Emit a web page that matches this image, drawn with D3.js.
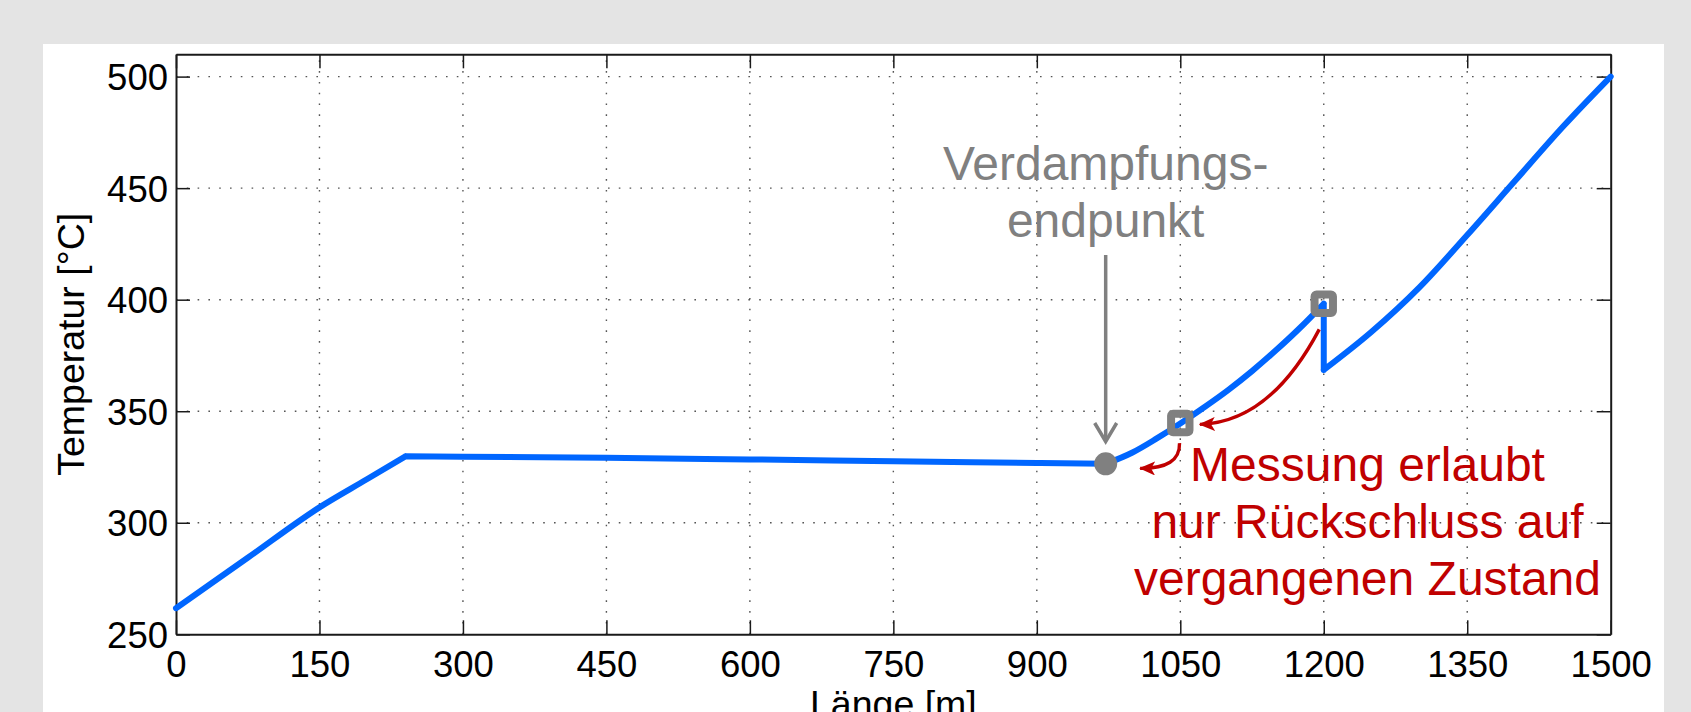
<!DOCTYPE html>
<html>
<head>
<meta charset="utf-8">
<script src="https://cdn.jsdelivr.net/npm/d3@7/dist/d3.min.js"></script>
<style>
	body{margin:0;background:#e4e4e4;overflow:hidden;}
	text{font-family:"Liberation Sans",Arial,Helvetica,sans-serif;}
</style>
</head>
<body>
<div id="plot"></div>
<script>
// Temperaturverlauf ueber die Rohrlaenge
var laenge = [0, 75, 150, 200, 240, 300, 450, 600, 750, 900, 972,
	1000, 1025, 1050, 1075, 1100, 1125, 1150, 1175, 1200,
	1200, 1250, 1300, 1350, 1400, 1450, 1500]
var temperatur = [261.7, 284.3, 306.9, 319.6, 329.8, 329.6, 329.1, 328.4, 327.6, 326.8, 326.4,
	331.5, 337.7, 344.5, 351.8, 359.5, 368, 377.3, 387.3, 398.2,
	368.5, 385.6, 405.5, 429, 453.3, 477.5, 500]
// Knickstellen: Abschnitte werden einzeln geglaettet
var knick = [240, 972, 1200]

var xTicks = [0, 150, 300, 450, 600, 750, 900, 1050, 1200, 1350, 1500]
var yTicks = [250, 300, 350, 400, 450, 500]

// Verdampfungsendpunkt + Messstellen
var endpunkt = {x: 972, t: 326.4}
var messX = [1050, 1200]
var messT = [344.7, 398.2]

var verdampfText = ["Verdampfungs-", "endpunkt"]
var messText = ["Messung erlaubt", "nur Rückschluss auf", "vergangenen Zustand"]

function plot(){
	var W = 1691, H = 712
	var blau = "#0066ff", grau = "#808080", rot = "#c00000"

	var svg = d3.select("#plot")
		.append("svg")
			.attr("width", W)
			.attr("height", H)

	svg.append("rect")
		.attr("width", W).attr("height", H)
		.attr("fill", "#e4e4e4")
	svg.append("rect")
		.attr("x", 43).attr("y", 44)
		.attr("width", 1621).attr("height", H)
		.attr("fill", "#fff")

	var x = d3.scaleLinear()
		.domain([0, 1500])
		.range([176, 1610.7])
	var y = d3.scaleLinear()
		.domain([250, 510])
		.range([634.3, 54.3])

	var x0 = x.range()[0], x1 = x.range()[1]
	var y0 = y.range()[0], y1 = y.range()[1]

	// dotted grid
	var grid = svg.append("g")
	grid.selectAll(".gx")
		.data(xTicks.slice(1, -1))
		.enter().append("line")
			.attr("x1", d => x(d)).attr("x2", d => x(d))
			.attr("y1", y0).attr("y2", y1)
	grid.selectAll(".gy")
		.data(yTicks.slice(1))
		.enter().append("line")
			.attr("x1", x0).attr("x2", x1)
			.attr("y1", d => y(d)).attr("y2", d => y(d))
	grid.selectAll("line")
		.attr("stroke", "#555")
		.attr("stroke-width", 1.4)
		.attr("stroke-dasharray", "1.6,9.2")

	// box axes, ticks inside (matlab style)
	var fs = 36.5
	var fmt = d3.format("d")
	var ax = svg.append("g")
		.attr("transform", "translate(0," + y0 + ")")
		.call(d3.axisBottom(x).tickValues(xTicks).tickFormat(fmt).tickSize(-14).tickSizeOuter(0).tickPadding(17))
	var ay = svg.append("g")
		.attr("transform", "translate(" + x0 + ",0)")
		.call(d3.axisLeft(y).tickValues(yTicks).tickFormat(fmt).tickSize(-14).tickSizeOuter(0).tickPadding(8))
	var at = svg.append("g")
		.attr("transform", "translate(0," + y1 + ")")
		.call(d3.axisTop(x).tickValues(xTicks).tickSize(-14).tickSizeOuter(0).tickFormat(""))
	var ar = svg.append("g")
		.attr("transform", "translate(" + x1 + ",0)")
		.call(d3.axisRight(y).tickValues(yTicks).tickSize(-14).tickSizeOuter(0).tickFormat(""))

	;[ax, ay, at, ar].forEach(a => {
		a.select(".domain").attr("stroke", "#1a1a1a").attr("stroke-width", 2)
		a.selectAll(".tick line").attr("stroke", "#1a1a1a").attr("stroke-width", 1.5)
		a.selectAll(".tick text")
			.attr("fill", "#000")
			.style("font-size", fs + "px")
			.style("font-family", '"Liberation Sans",Arial,sans-serif')
	})
	ay.selectAll(".tick text").attr("dy", "0.36em")

	// axis titles
	svg.append("text")
		.attr("transform", "translate(84," + ((y0 + y1) / 2) + ") rotate(-90)")
		.attr("text-anchor", "middle")
		.style("font-size", "37.5px")
		.text("Temperatur [°C]")
	svg.append("text")
		.attr("x", (x0 + x1) / 2)
		.attr("y", 716.5)
		.attr("text-anchor", "middle")
		.style("font-size", "37.5px")
		.text("Länge [m]")

	// the curve, split at the kinks, each piece smoothed
	var pts = laenge.map((d, i) => [d, temperatur[i]])
	var stuecke = [], cur = [pts[0]]
	for (var i = 1; i < pts.length; i++){
		var p = pts[i]
		if (p[0] == cur[cur.length-1][0]){
			// senkrechter Sprung
			stuecke.push(cur)
			stuecke.push([cur[cur.length-1], p])
			cur = [p]
			continue
		}
		cur.push(p)
		if (knick.indexOf(p[0]) >= 0 && i < pts.length-1 && pts[i+1][0] != p[0]){
			stuecke.push(cur)
			cur = [p]
		}
	}
	stuecke.push(cur)

	var glatt = d3.line().curve(d3.curveMonotoneX).x(d => x(d[0])).y(d => y(d[1]))
	var gerade = d3.line().x(d => x(d[0])).y(d => y(d[1]))
	var dpath = stuecke.map(s => (s[0][0] == s[s.length-1][0] ? gerade(s) : glatt(s))).join("")

	svg.append("path")
		.attr("fill", "none")
		.attr("stroke", blau)
		.attr("stroke-width", 6)
		.attr("stroke-linejoin", "round")
		.attr("stroke-linecap", "round")
		.attr("d", dpath)

	// marker for red arrows
	svg.append("defs").append("marker")
		.attr("id", "spitze")
		.attr("markerUnits", "userSpaceOnUse")
		.attr("viewBox", "0 0 16 14")
		.attr("refX", 15).attr("refY", 7)
		.attr("markerWidth", 16).attr("markerHeight", 14)
		.attr("orient", "auto")
		.append("path")
			.attr("d", "M0,0 L16,7 L0,14 L4,7 Z")
			.attr("fill", rot)

	// red curved arrows (start, control, end in data units)
	var pfeile = [
		[[1049.2, 335.7], [1050, 324.2], [1008, 324.4]],
		[[1195.3, 386.7], [1144, 345], [1070.5, 344.1]]
	]
	svg.selectAll(".pfeil")
		.data(pfeile)
		.enter().append("path")
			.attr("fill", "none")
			.attr("stroke", rot)
			.attr("stroke-width", 3.4)
			.attr("marker-end", "url(#spitze)")
			.attr("d", d => "M" + x(d[0][0]) + "," + y(d[0][1]) +
				" Q" + x(d[1][0]) + "," + y(d[1][1]) + " " + x(d[2][0]) + "," + y(d[2][1]))

	// grey arrow down to end point
	var px = x(endpunkt.x)
	svg.append("line")
		.attr("x1", px).attr("x2", px)
		.attr("y1", 255).attr("y2", 440)
		.attr("stroke", grau).attr("stroke-width", 3.5)
	svg.append("polyline")
		.attr("points", (px - 11) + ",423 " + px + ",441.5 " + (px + 11) + ",423")
		.attr("fill", "none")
		.attr("stroke", grau).attr("stroke-width", 3.5)

	svg.append("circle")
		.attr("cx", px).attr("cy", y(endpunkt.t))
		.attr("r", 11.5)
		.attr("fill", grau)

	svg.selectAll(".mess")
		.data(messX)
		.enter().append("rect")
			.attr("x", d => x(d) - 9.2)
			.attr("y", (d, i) => y(messT[i]) - 9.2)
			.attr("width", 18.4).attr("height", 18.4)
			.attr("rx", 2)
			.attr("fill", "none")
			.attr("stroke", grau)
			.attr("stroke-width", 8)

	svg.append("g").selectAll("text")
		.data(verdampfText)
		.enter().append("text")
			.attr("x", px)
			.attr("y", (d, i) => 180 + i * 56.7)
			.attr("text-anchor", "middle")
			.attr("fill", grau)
			.style("font-size", "48px")
			.text(d => d)

	svg.append("g").selectAll("text")
		.data(messText)
		.enter().append("text")
			.attr("x", 1367.5)
			.attr("y", (d, i) => 481 + i * 57)
			.attr("text-anchor", "middle")
			.attr("fill", rot)
			.style("font-size", "48px")
			.text(d => d)
}

plot()
</script>
</body>
</html>
